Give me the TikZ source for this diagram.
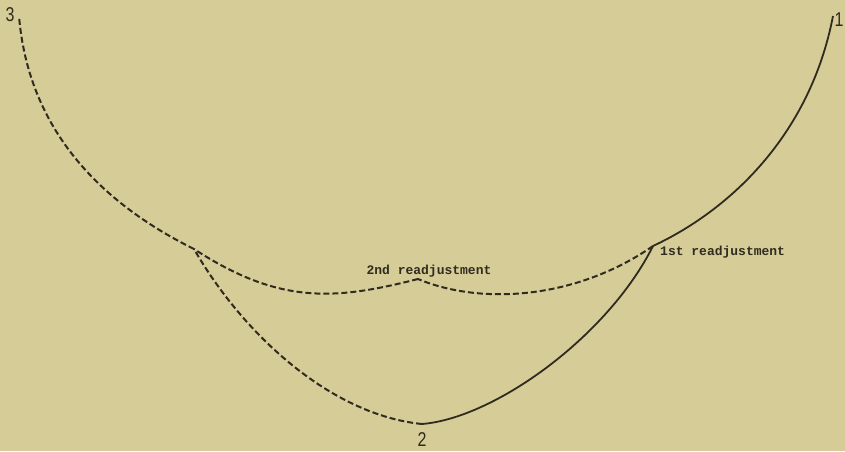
\documentclass[tikz,border=0pt]{standalone}
\usepackage{fontspec}
\setmainfont{Liberation Sans}
\newfontfamily\typer{Liberation Mono}

\definecolor{paper}{RGB}{213,204,152}
\definecolor{ink}{RGB}{48,43,30}

\begin{document}
\begin{tikzpicture}[
    x=1pt, y=-1pt,
    arc/.style={draw=ink, line width=1.8pt},
    dasharc/.style={arc, line width=2pt, dash pattern=on 6pt off 3pt},
    num/.style={font=\fontsize{20}{20}\selectfont, text=ink, inner sep=0pt, xscale=0.8},
    note/.style={font=\typer\bfseries\fontsize{13}{13}\selectfont, text=ink, inner sep=0pt}
]
% paper
\fill[paper] (0,0) rectangle (845,451);
\useasboundingbox (0,0) rectangle (845,451);

% points of the path
\coordinate (c3)  at (19,16);
\coordinate (c1)  at (833,16);
\coordinate (c2)  at (422,424);
\coordinate (ca)  at (194,249);
\coordinate (cr1) at (653,246);
\coordinate (cr2) at (418,279);

% numbers and notes
\node[num] (n3) at (10,15) {3};
\node[num] (n1) at (839,20) {1};
\node[num] (n2) at (422,440) {2};
\node[note, anchor=west] (lab1) at (660,252) {1st readjustment};
\node[note] (lab2) at (429,271) {2nd readjustment};

% first run -- solid part
\draw[arc] (c1) .. controls (810,135) and (730,210) .. (cr1);
\draw[arc] (cr1) .. controls (608,336) and (495,418) .. (c2);
% first run -- dashed part
\draw[dasharc] (c2) .. controls (332,415) and (244,336) .. (ca);
\draw[dasharc] (ca) .. controls (95,200) and (28,125) .. (c3);

% readjustments
\draw[dasharc] (cr1) .. controls (575,300) and (480,305) .. (cr2);
\draw[dasharc] (cr2) .. controls (335,300) and (280,305) .. (ca);
\end{tikzpicture}
\end{document}
